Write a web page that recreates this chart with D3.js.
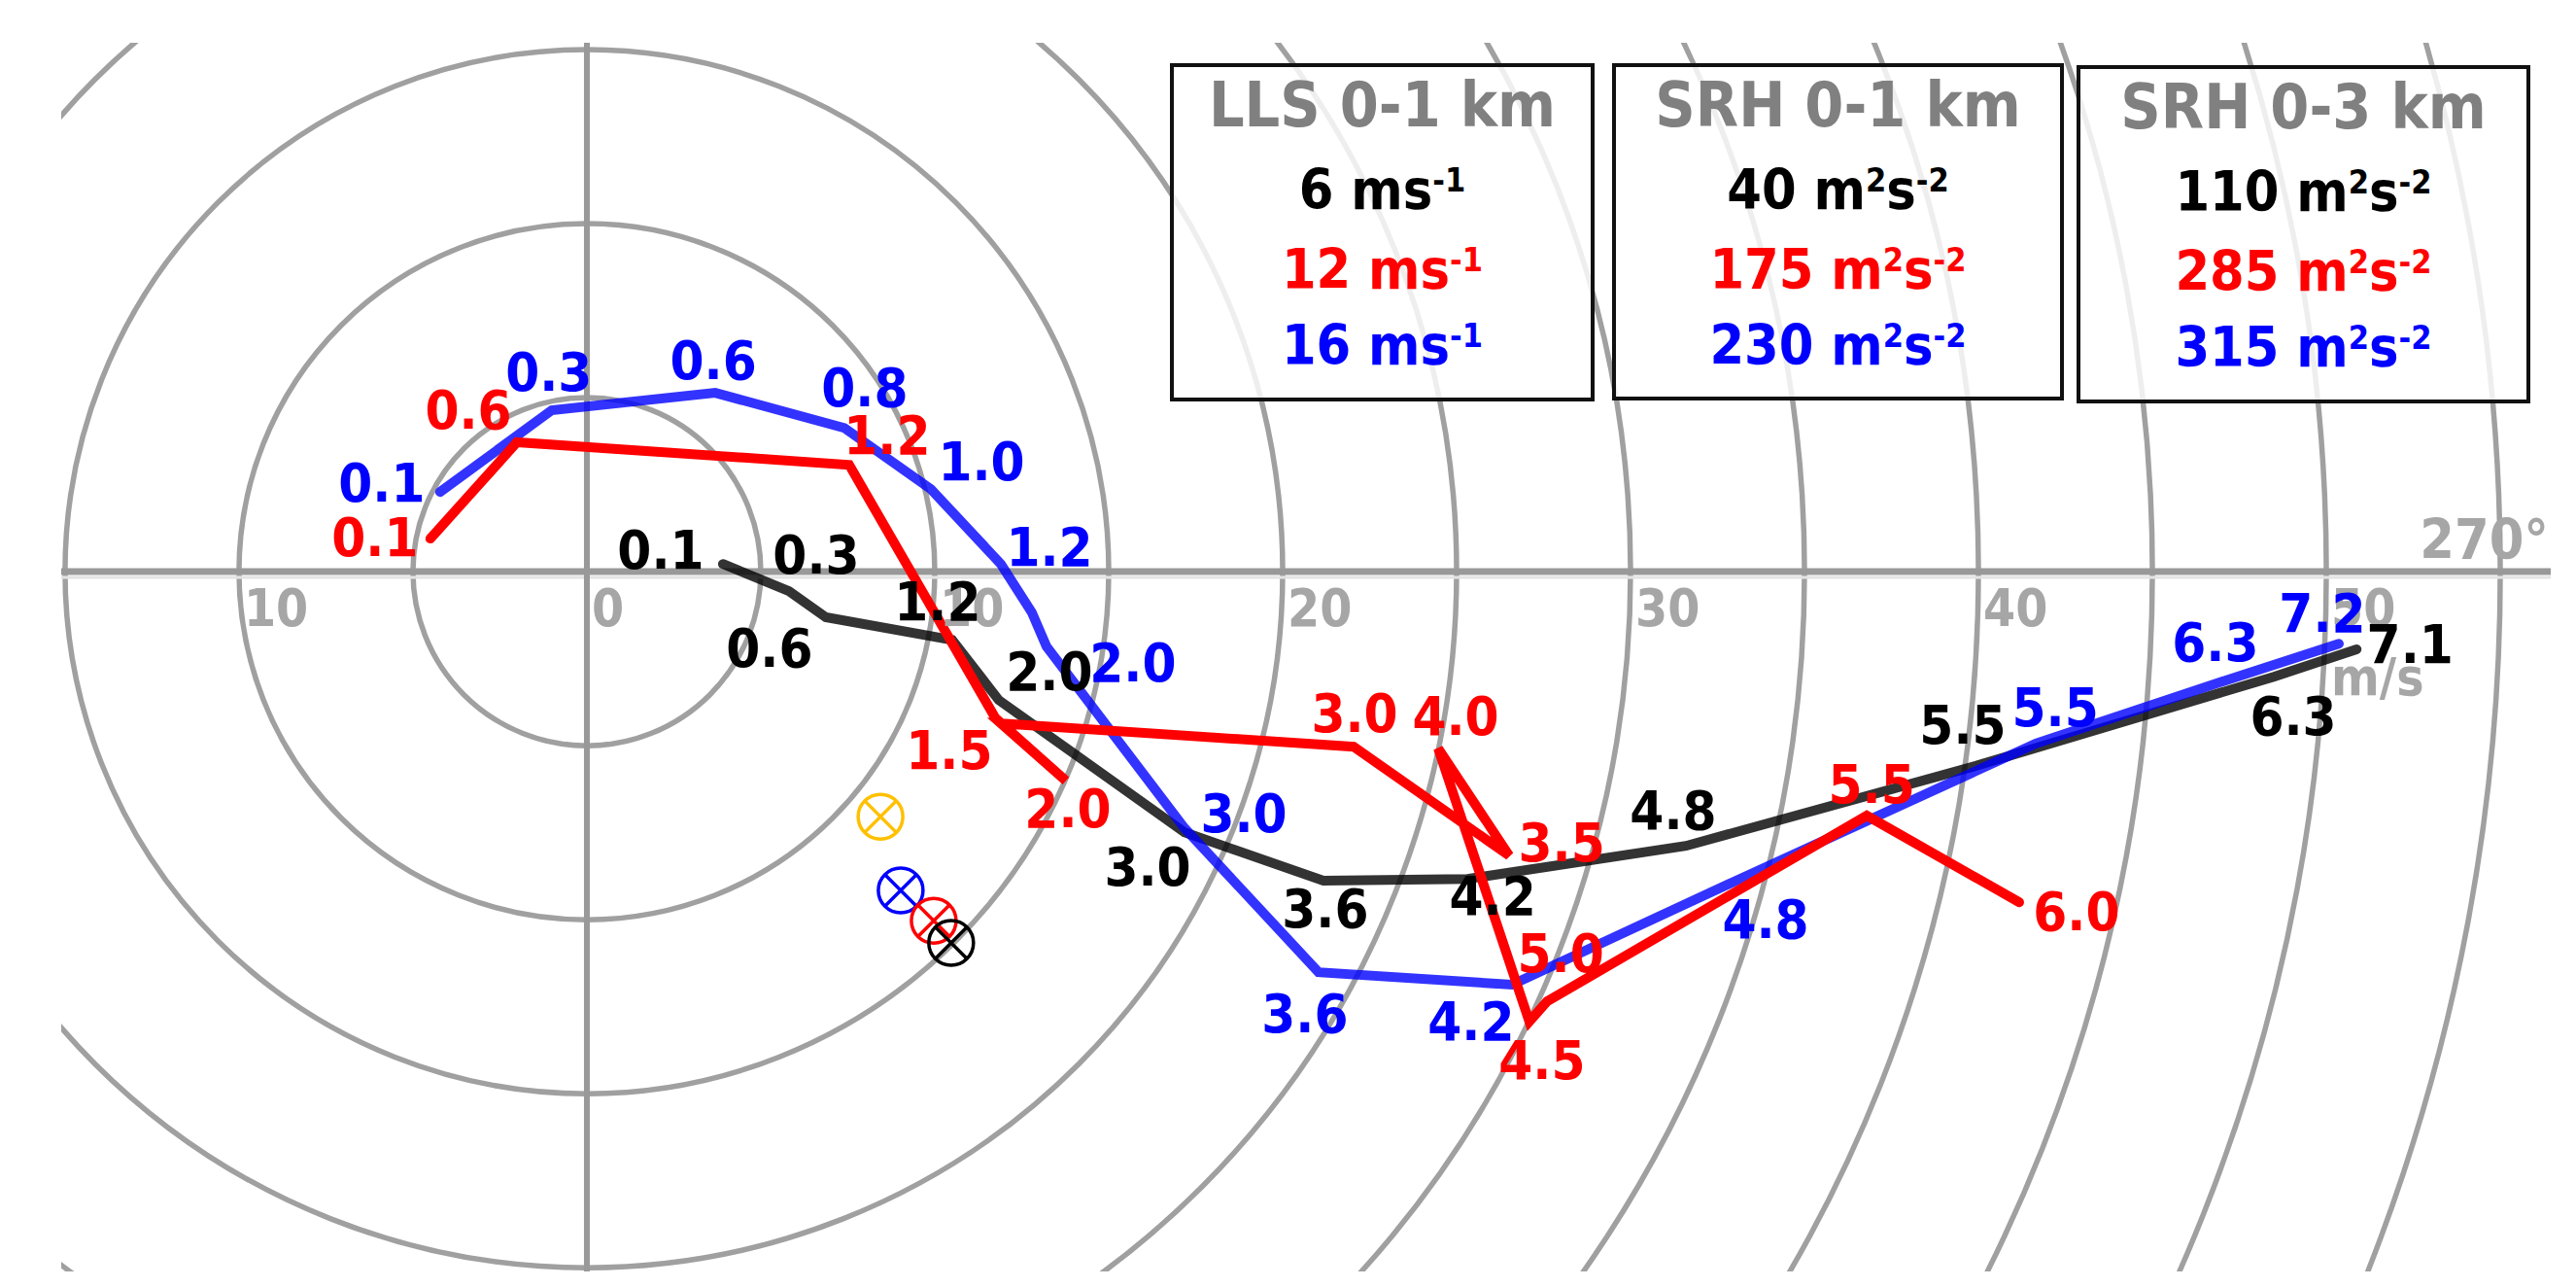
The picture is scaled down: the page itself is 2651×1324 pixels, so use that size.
<!DOCTYPE html>
<meta charset="utf-8">
<head>
  <script src="https://d3js.org/d3.v7.min.js"></script>
  <style>
    body { margin: 0; background: #fff; }
    text { font-family: "DejaVu Sans Condensed", "DejaVu Sans", sans-serif; font-weight: bold; }
  </style>
</head>
<body>
<div id="hodograph"></div>
<script>

// ---- data (m/s, u to the right, v up) ----
var ringSpeeds = [5, 10, 15, 20, 25, 30, 35, 40, 45, 50, 55, 60, 65];
var tickValues = [-10, 0, 10, 20, 30, 40, 50];

var blackHeights = ["0.1", "0.3", "0.6", "1.2", "2.0", "3.0", "3.6", "4.2", "4.8", "5.5", "6.3", "7.1"];
var blackWind = [[3.91, 0.22], [5.81, -0.56], [6.87, -1.31], [10.50, -1.96], [11.84, -3.69], [17.18, -7.49],
  [21.17, -8.88], [25.31, -8.83], [31.59, -7.88], [39.83, -5.61], [48.49, -3.02], [50.87, -2.23]];

var redHeights = ["0.1", "0.6", "1.2", "1.5", "2.0", null, "3.0", "3.5", "4.0", "4.5", "5.0", "5.5", "6.0"];
var redWind = [[-4.50, 0.95], [-2.01, 3.72], [7.54, 3.07], [11.73, -4.19], [13.77, -6.01], [11.90, -4.36],
  [22.04, -5.03], [26.51, -8.16], [24.47, -5.08], [27.09, -12.93], [27.60, -12.35], [36.79, -7.01], [41.17, -9.50]];

var blueHeights = ["0.1", "0.3", "0.6", "0.8", "1.0", "1.2", null, "2.0", "3.0", "3.6", "4.2", "4.8", "5.5", "6.3", "7.2"];
var blueWind = [[-4.22, 2.29], [-1.01, 4.64], [3.69, 5.14], [7.40, 4.13], [9.89, 2.37], [11.90, 0.22], [12.79, -1.17],
  [13.21, -2.15], [17.18, -7.37], [21.03, -11.51], [26.59, -11.87], [32.29, -9.22], [41.65, -4.94], [47.09, -3.13], [50.36, -2.07]];

// storm motions (yellow, blue, red, black)
var stormU = [8.44, 9.02, 9.97, 10.47];
var stormV = [-7.04, -9.16, -10.03, -10.67];

// parameter boxes
var boxTitles = ["LLS 0-1 km", "SRH 0-1 km", "SRH 0-3 km"];
var lls01 = [6, 12, 16];
var srh01 = [40, 175, 230];
var srh03 = [110, 285, 315];

// ---- label nudges in px (label centre relative to the point) ----
var blackNudge = [[-64, -15], [28, -38], [-58, 31], [-15, -40], [52, -30], [-38, 35], [2, 28], [26, 17], [-13, -37], [-10, -44], [20, 40], [55, -6]];
var redNudge = [[-57, -2], [-50, -34], [39, -31], [-47, 33], [2, 28], null, [1, -35], [54, -14], [18, -34], [13, 39], [14, -50], [5, -33], [59, 9]];
var blueNudge = [[-60, -10], [-3, -40], [-2, -34], [21, -42], [52, -29], [50, -18], null, [89, 16], [61, -16], [-14, 42], [-42, 37], [57, 27], [20, -38], [-10, -40], [-17, -32]];

var W = 2651, H = 1324;
var svg = d3.select("#hodograph").append("svg")
  .attr("width", W)
  .attr("height", H);

// scales: same px per m/s on both axes
var x = d3.scaleLinear().domain([-15.11, 56.45]).range([63, 2625]);
var y = d3.scaleLinear().domain([15.2, -20.11]).range([44, 1308]);
var k = x(1) - x(0);

svg.append("defs").append("clipPath").attr("id", "plotclip")
  .append("rect").attr("x", 63).attr("y", 44).attr("width", 2625 - 63).attr("height", 1308 - 44);

var plot = svg.append("g").attr("clip-path", "url(#plotclip)");

// speed rings
plot.selectAll(".ring")
  .data(ringSpeeds)
  .enter()
  .append("circle")
  .attr("class", "ring")
  .attr("cx", x(0))
  .attr("cy", y(0))
  .attr("r", function (d) { return d * k; })
  .attr("fill", "none")
  .attr("stroke", "#a0a0a0")
  .attr("stroke-width", 5.5);

// axes through the origin
plot.append("line")
  .attr("x1", 63).attr("x2", 2625)
  .attr("y1", y(0) + 6).attr("y2", y(0) + 6)
  .attr("stroke", "#e3e3e3").attr("stroke-width", 3);
plot.append("line")
  .attr("x1", 63).attr("x2", 2625)
  .attr("y1", y(0)).attr("y2", y(0))
  .attr("stroke", "#999").attr("stroke-width", 7);
plot.append("line")
  .attr("x1", x(0)).attr("x2", x(0))
  .attr("y1", 44).attr("y2", 1308)
  .attr("stroke", "#999").attr("stroke-width", 6);

// speed labels along the u axis
svg.selectAll(".tick")
  .data(tickValues)
  .enter()
  .append("text")
  .attr("class", "tick")
  .attr("x", function (d) { return x(d) + 5; })
  .attr("y", y(0) + 56)
  .attr("font-size", 53)
  .attr("fill", "#a6a6a6")
  .text(function (d) { return Math.abs(d); });

svg.append("text")
  .attr("x", x(50) + 5)
  .attr("y", y(0) + 127)
  .attr("font-size", 53)
  .attr("fill", "#a6a6a6")
  .text("m/s");

svg.append("text")
  .attr("x", 2623)
  .attr("y", y(0) - 13)
  .attr("text-anchor", "end")
  .attr("font-size", 57)
  .attr("fill", "#a6a6a6")
  .text("270°");

// parameter boxes
var boxes = [
  { x0: 1206, x1: 1639, y0: 67, y1: 411, title: boxTitles[0], vals: lls01, unit: "ms" },
  { x0: 1661, x1: 2122, y0: 67, y1: 410, title: boxTitles[1], vals: srh01, unit: "m2s" },
  { x0: 2139, x1: 2602, y0: 69, y1: 413, title: boxTitles[2], vals: srh03, unit: "m2s" }
];
var rowColors = ["#000000", "#ff0000", "#0000ff"];
var rowBase = [148, 230, 308];

boxes.forEach(function (b) {
  var g = svg.append("g");
  g.append("rect")
    .attr("x", b.x0).attr("y", b.y0)
    .attr("width", b.x1 - b.x0).attr("height", b.y1 - b.y0)
    .attr("fill", "#fff").attr("fill-opacity", 0.82)
    .attr("stroke", "#111").attr("stroke-width", 4);
  var cx = (b.x0 + b.x1) / 2;
  g.append("text")
    .attr("x", cx).attr("y", b.y0 + 63)
    .attr("text-anchor", "middle")
    .attr("font-size", 64)
    .attr("fill", "#808080")
    .text(b.title);
  b.vals.forEach(function (v, i) {
    var t = g.append("text")
      .attr("x", cx).attr("y", b.y0 + rowBase[i])
      .attr("text-anchor", "middle")
      .attr("font-size", 57)
      .attr("fill", rowColors[i]);
    if (b.unit === "ms") {
      t.append("tspan").text(v + " ms");
      t.append("tspan").attr("font-size", 34).attr("dy", -18).text("-1");
    } else {
      t.append("tspan").text(v + " m");
      t.append("tspan").attr("font-size", 34).attr("dy", -18).text("2");
      t.append("tspan").attr("dy", 18).text("s");
      t.append("tspan").attr("font-size", 34).attr("dy", -18).text("-2");
    }
  });
});

// hodograph traces
var line = d3.line()
  .x(function (d) { return x(d[0]); })
  .y(function (d) { return y(d[1]); });

var traces = [
  { wind: blackWind, heights: blackHeights, nudge: blackNudge, stroke: "#000", opacity: 0.8, text: "#000" },
  { wind: blueWind, heights: blueHeights, nudge: blueNudge, stroke: "#0000ff", opacity: 0.8, text: "#0000ff" },
  { wind: redWind, heights: redHeights, nudge: redNudge, stroke: "#ff0000", opacity: 1, text: "#ff0000" }
];

traces.forEach(function (s) {
  plot.append("path")
    .datum(s.wind)
    .attr("d", line)
    .attr("fill", "none")
    .attr("stroke", s.stroke)
    .attr("stroke-opacity", s.opacity)
    .attr("stroke-width", 10)
    .attr("stroke-linecap", "round")
    .attr("stroke-linejoin", "miter");
});

// storm motion markers
var stormColors = ["#ffc000", "#0000ff", "#ff0000", "#000000"];
var markers = svg.selectAll(".storm")
  .data(stormU)
  .enter()
  .append("g")
  .attr("class", "storm")
  .attr("transform", function (d, i) { return "translate(" + x(d) + "," + y(stormV[i]) + ")"; });
markers.append("circle")
  .attr("r", 23)
  .attr("fill", "none")
  .attr("stroke", function (d, i) { return stormColors[i]; })
  .attr("stroke-width", 3.5);
markers.append("path")
  .attr("d", "M-16,-16L16,16M16,-16L-16,16")
  .attr("stroke", function (d, i) { return stormColors[i]; })
  .attr("stroke-width", 3.5);

// height labels (km)
traces.forEach(function (s) {
  s.heights.forEach(function (h, i) {
    if (h === null) return;
    svg.append("text")
      .attr("x", x(s.wind[i][0]) + s.nudge[i][0])
      .attr("y", y(s.wind[i][1]) + s.nudge[i][1] + 20)
      .attr("text-anchor", "middle")
      .attr("font-size", 56)
      .attr("fill", s.text)
      .text(h);
  });
});

</script>
</body>
